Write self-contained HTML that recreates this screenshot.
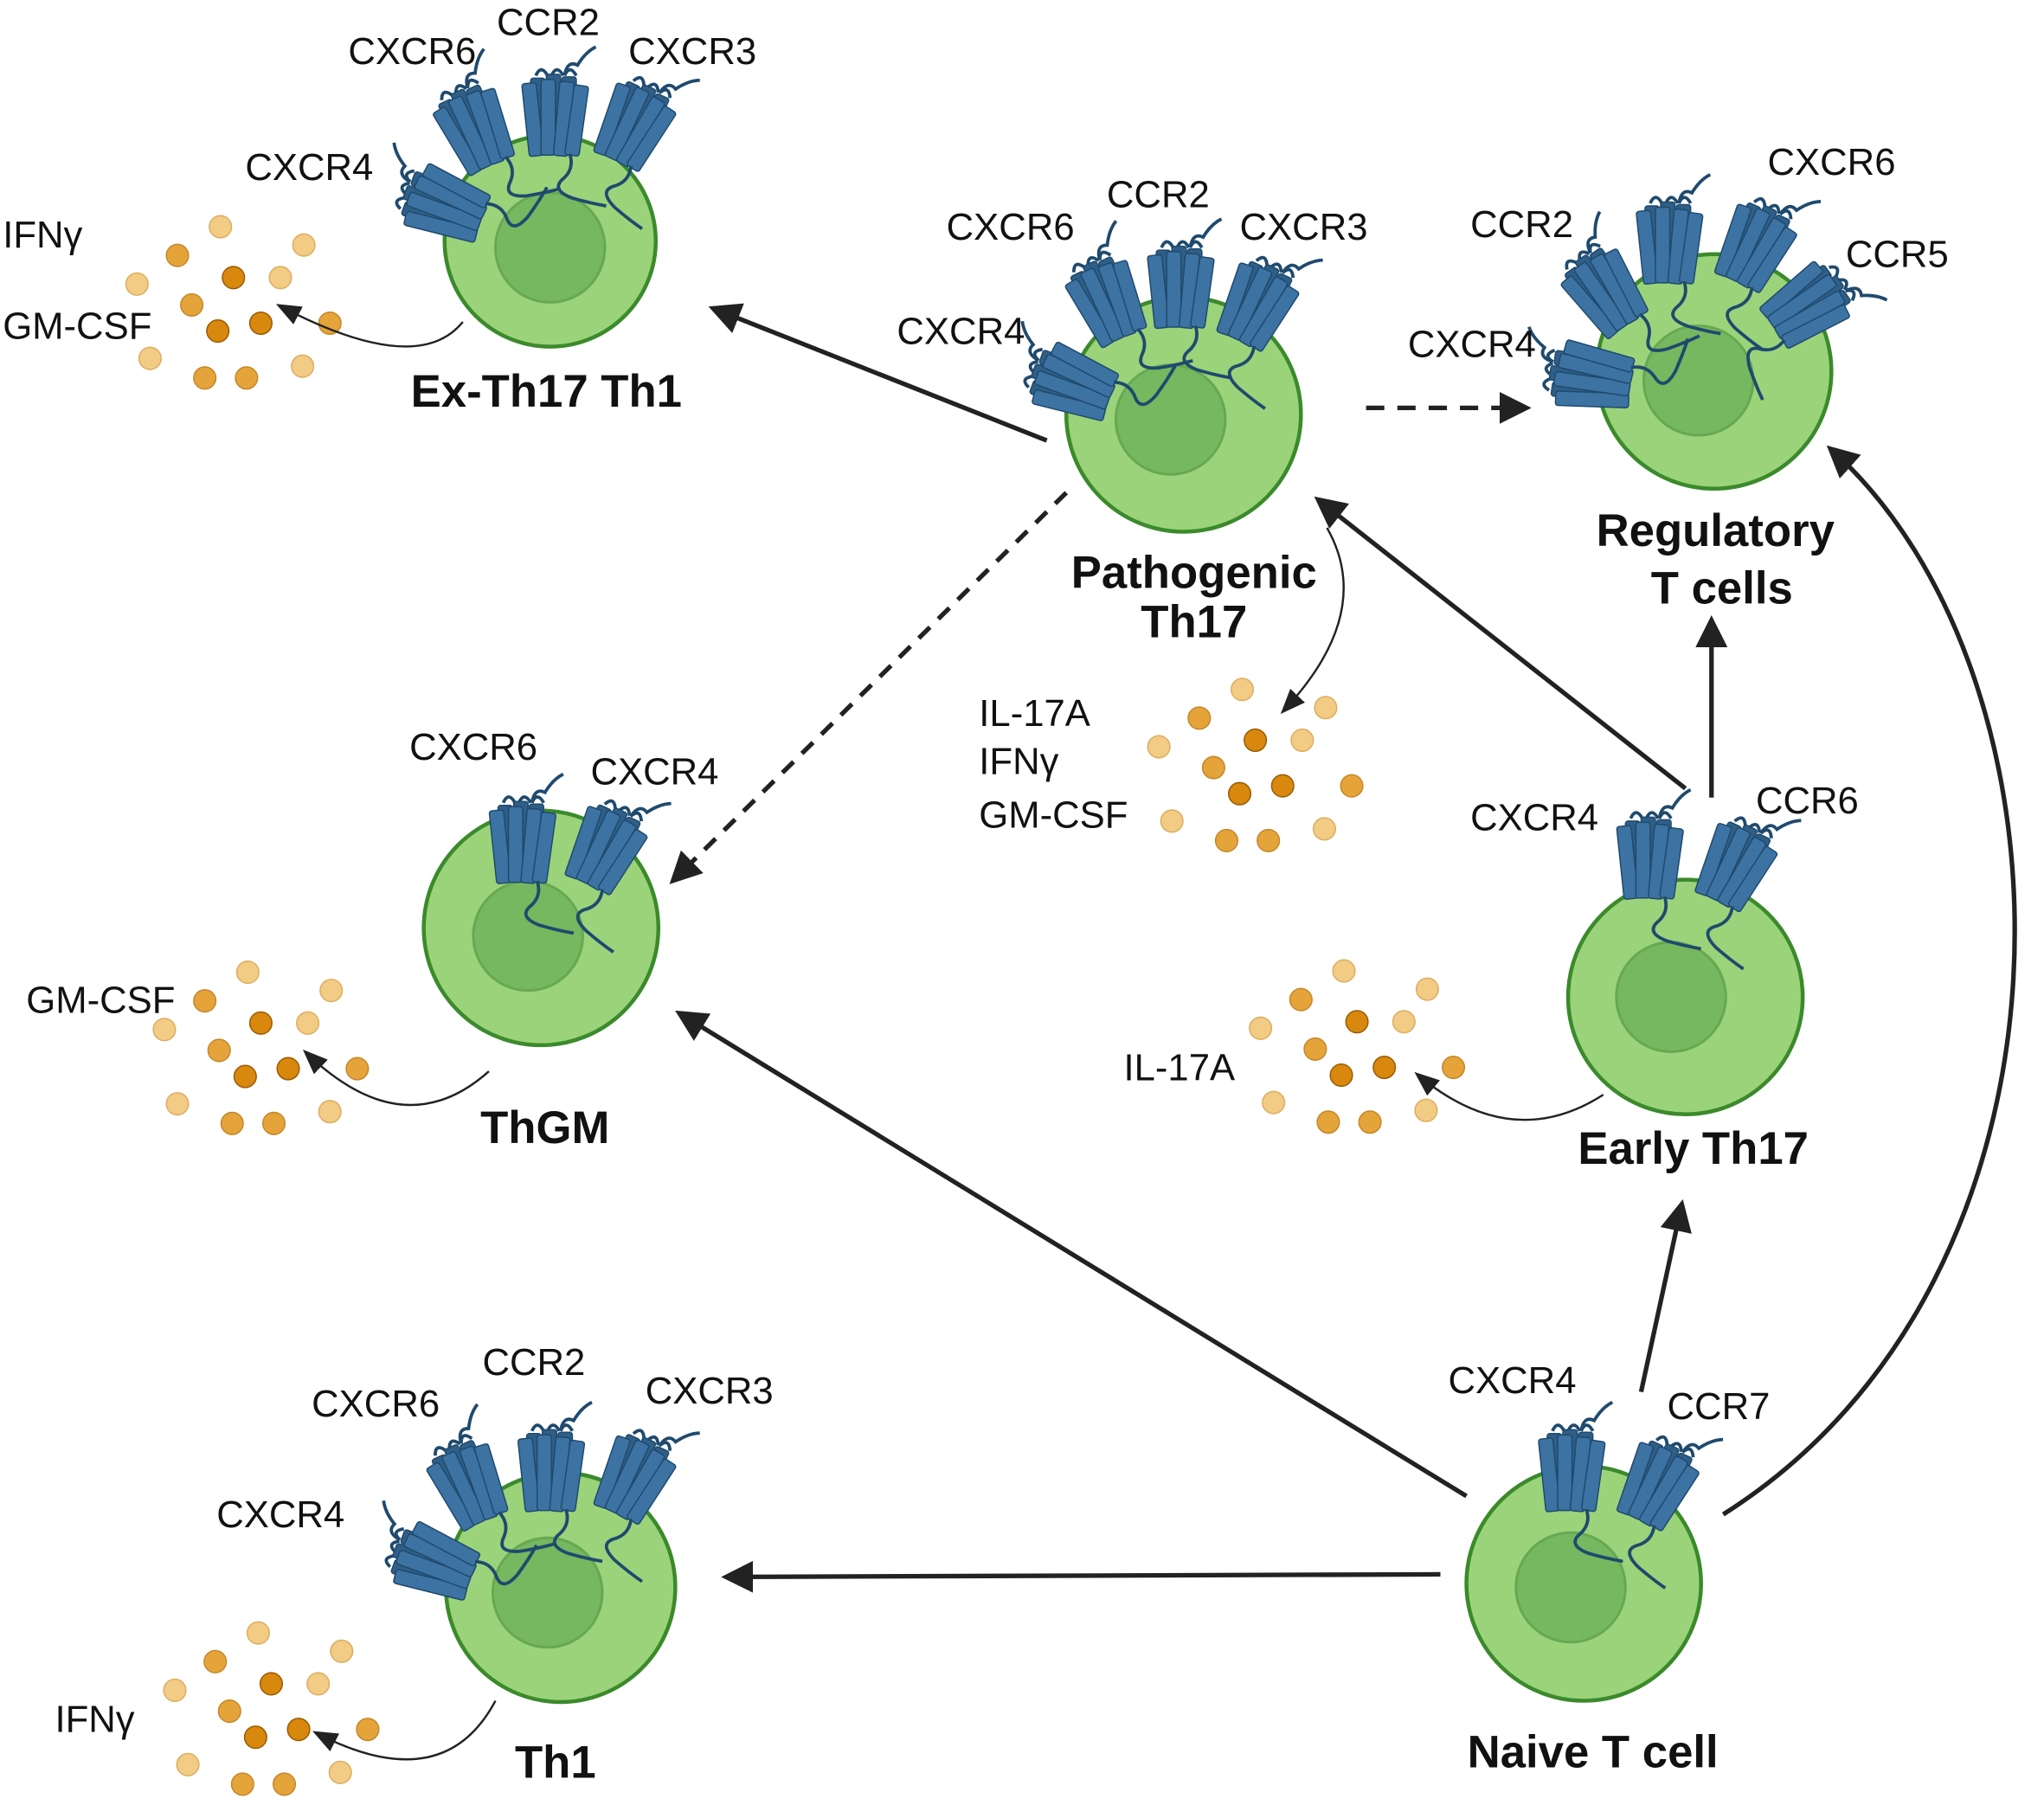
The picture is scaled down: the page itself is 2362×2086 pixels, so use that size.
<!DOCTYPE html>
<html><head><meta charset="utf-8"><style>
html,body{margin:0;padding:0;background:#fff;}
svg{display:block;}
text{font-family:"Liberation Sans",sans-serif;fill:#111;}
.l{font-size:29px;}
.b{font-size:35px;font-weight:bold;}
</style></head><body>
<svg width="2362" height="2086" viewBox="0 0 1568 1385" xmlns="http://www.w3.org/2000/svg">
<defs>
<g id="rec">
  <path d="M8,-32 q2,-12 10,-8 q6,-10 14,-14" fill="none" stroke="#1f4a6e" stroke-width="2.5"/>
  <path d="M-14,-32 q4,-9 9,0 M-2,-32 q4,-9 9,0 M8,-32 q4,-9 9,0" fill="none" stroke="#1f4a6e" stroke-width="2.5"/>
  <rect x="-18" y="-30" width="11" height="54" rx="2" fill="#2f5f87" stroke="#1f4a6e"/>
  <rect x="-6" y="-33" width="11" height="54" rx="2" fill="#2f5f87" stroke="#1f4a6e"/>
  <rect x="6" y="-31" width="11" height="54" rx="2" fill="#2f5f87" stroke="#1f4a6e"/>
  <rect x="-22" y="-28" width="11" height="56" rx="2" fill="#3d73a3" stroke="#1f4a6e" transform="rotate(-6)"/>
  <rect x="-10" y="-29" width="11" height="58" rx="2" fill="#3d73a3" stroke="#1f4a6e"/>
  <rect x="2" y="-28" width="11" height="57" rx="2" fill="#3d73a3" stroke="#1f4a6e" transform="rotate(5)"/>
  <rect x="12" y="-27" width="11" height="54" rx="2" fill="#3d73a3" stroke="#1f4a6e" transform="rotate(8)"/>
  <path d="M12,28 q4,12 -6,20 q-8,8 8,14 q14,4 26,6" fill="none" stroke="#1f4a6e" stroke-width="2.5"/>
</g>
<g id="dots">
  <g fill="#f2cb84" stroke="#dcae60" stroke-width="1">
    <circle cx="-10" cy="-59" r="8.5"/><circle cx="54" cy="-45" r="8.5"/><circle cx="-74" cy="-15" r="8.5"/>
    <circle cx="36" cy="-20" r="8.5"/><circle cx="-64" cy="42" r="8.5"/><circle cx="53" cy="48" r="8.5"/>
  </g>
  <g fill="#e4a43a" stroke="#c5872a" stroke-width="1">
    <circle cx="-43" cy="-37" r="8.5"/><circle cx="-32" cy="1" r="8.5"/><circle cx="-22" cy="57" r="8.5"/>
    <circle cx="10" cy="57" r="8.5"/><circle cx="74" cy="15" r="8.5"/>
  </g>
  <g fill="#d8880c" stroke="#9a5c05" stroke-width="1">
    <circle cx="0" cy="-20" r="8.5"/><circle cx="-12" cy="21" r="8.5"/><circle cx="21" cy="15" r="8.5"/>
  </g>
</g>
<marker id="ah" viewBox="0 0 10 10" refX="8" refY="5" markerWidth="7" markerHeight="7" orient="auto" markerUnits="strokeWidth"><path d="M0,0 L10,5 L0,10 z" fill="#222"/></marker>
<marker id="ah2" viewBox="0 0 10 10" refX="8" refY="5" markerWidth="10" markerHeight="10" orient="auto" markerUnits="strokeWidth"><path d="M0,0 L10,5 L0,10 z" fill="#222"/></marker>
<marker id="ahs" viewBox="0 0 10 10" refX="8" refY="5" markerWidth="12" markerHeight="12" orient="auto" markerUnits="strokeWidth"><path d="M0,1 L10,5 L0,9 z" fill="#222"/></marker>
</defs>

<!-- connectors -->
<g stroke="#222" stroke-width="3.5" fill="none">
  <line x1="803" y1="338" x2="548" y2="237" marker-end="url(#ah)"/>
  <line x1="1048" y1="313" x2="1170" y2="313" stroke-dasharray="14,10" marker-end="url(#ah)"/>
  <line x1="818" y1="378" x2="517" y2="675" stroke-dasharray="12,9" marker-end="url(#ah)"/>
  <line x1="1293" y1="605" x2="1012" y2="384" marker-end="url(#ah)"/>
  <line x1="1313" y1="612" x2="1313" y2="477" marker-end="url(#ah)"/>
  <line x1="1125" y1="1148" x2="522" y2="778" marker-end="url(#ah)"/>
  <line x1="1105" y1="1208" x2="558" y2="1210" marker-end="url(#ah)"/>
  <line x1="1259" y1="1068" x2="1290" y2="925" marker-end="url(#ah)"/>
  <path d="M1322,1162 C1610,980 1600,520 1405,345" marker-end="url(#ah)"/>
</g>

<!-- cells -->
<g stroke="#3b8a2c" stroke-width="3">
  <circle cx="422" cy="185" r="81" fill="#9bd37a"/>
  <circle cx="908" cy="318" r="90" fill="#9bd37a"/>
  <circle cx="1315" cy="285" r="90" fill="#9bd37a"/>
  <circle cx="415" cy="712" r="90" fill="#9bd37a"/>
  <circle cx="1293" cy="765" r="90" fill="#9bd37a"/>
  <circle cx="430" cy="1218" r="88" fill="#9bd37a"/>
  <circle cx="1215" cy="1215" r="90" fill="#9bd37a"/>
</g>
<g fill="#76b85f" stroke="#67a852" stroke-width="2">
  <circle cx="422" cy="190" r="42"/>
  <circle cx="898" cy="322" r="42"/>
  <circle cx="1303" cy="292" r="42"/>
  <circle cx="405" cy="718" r="42"/>
  <circle cx="1282" cy="765" r="42"/>
  <circle cx="420" cy="1222" r="42"/>
  <circle cx="1205" cy="1218" r="42"/>
</g>

<!-- receptors -->
<use href="#rec" transform="translate(342,158) rotate(-70)"/>
<use href="#rec" transform="translate(365,100) rotate(-25)"/>
<use href="#rec" transform="translate(425,90)"/>
<use href="#rec" transform="translate(485,97) rotate(25)"/>

<use href="#rec" transform="translate(824,295) rotate(-70)"/>
<use href="#rec" transform="translate(850,232) rotate(-25)"/>
<use href="#rec" transform="translate(905,222)"/>
<use href="#rec" transform="translate(963,235) rotate(25)"/>

<use href="#rec" transform="translate(1222,290) rotate(-82)"/>
<use href="#rec" transform="translate(1232,225) rotate(-35)"/>
<use href="#rec" transform="translate(1280,188)"/>
<use href="#rec" transform="translate(1345,190) rotate(25)"/>
<use href="#rec" transform="translate(1385,235) rotate(55)"/>

<use href="#rec" transform="translate(400,648)"/>
<use href="#rec" transform="translate(463,652) rotate(25)"/>

<use href="#rec" transform="translate(1265,660)"/>
<use href="#rec" transform="translate(1330,665) rotate(25)"/>

<use href="#rec" transform="translate(334,1200) rotate(-70)"/>
<use href="#rec" transform="translate(360,1140) rotate(-25)"/>
<use href="#rec" transform="translate(422,1130)"/>
<use href="#rec" transform="translate(485,1135) rotate(25)"/>

<use href="#rec" transform="translate(1205,1130)"/>
<use href="#rec" transform="translate(1270,1140) rotate(25)"/>

<!-- cytokines -->
<use href="#dots" transform="translate(179,233)"/>
<use href="#dots" transform="translate(963,588)"/>
<use href="#dots" transform="translate(200,805)"/>
<use href="#dots" transform="translate(1041,804)"/>
<use href="#dots" transform="translate(208,1312)"/>

<!-- secretion arrows -->
<g stroke="#222" stroke-width="1.6" fill="none">
  <path d="M355,247 Q320,290 215,235" marker-end="url(#ahs)"/>
  <path d="M1018,405 Q1055,470 985,545" marker-end="url(#ahs)"/>
  <path d="M375,822 Q310,880 235,808" marker-end="url(#ahs)"/>
  <path d="M1230,840 Q1160,885 1088,825" marker-end="url(#ahs)"/>
  <path d="M380,1305 Q340,1380 243,1330" marker-end="url(#ahs)"/>
</g>

<!-- labels -->
<g class="l">
  <text x="267" y="49">CXCR6</text><text x="381" y="27">CCR2</text><text x="482" y="49">CXCR3</text>
  <text x="188" y="138">CXCR4</text>
  <text x="2" y="190">IFNγ</text><text x="2" y="260">GM-CSF</text>

  <text x="726" y="184">CXCR6</text><text x="849" y="159">CCR2</text><text x="951" y="184">CXCR3</text>
  <text x="688" y="264">CXCR4</text>

  <text x="1128" y="182">CCR2</text><text x="1356" y="134">CXCR6</text><text x="1416" y="205">CCR5</text>
  <text x="1080" y="274">CXCR4</text>

  <text x="751" y="557">IL-17A</text><text x="751" y="594">IFNγ</text><text x="751" y="635">GM-CSF</text>

  <text x="314" y="583">CXCR6</text><text x="453" y="602">CXCR4</text>
  <text x="20" y="777">GM-CSF</text>

  <text x="1128" y="637">CXCR4</text><text x="1347" y="624">CCR6</text>
  <text x="862" y="829">IL-17A</text>

  <text x="239" y="1087">CXCR6</text><text x="370" y="1055">CCR2</text><text x="495" y="1077">CXCR3</text>
  <text x="166" y="1172">CXCR4</text>
  <text x="42" y="1329">IFNγ</text>

  <text x="1111" y="1069">CXCR4</text><text x="1279" y="1089">CCR7</text>
</g>
<g class="b">
  <text x="315" y="312">Ex-Th17 Th1</text>
  <text x="916" y="451" text-anchor="middle">Pathogenic</text>
  <text x="916" y="489" text-anchor="middle">Th17</text>
  <text x="1316" y="419" text-anchor="middle">Regulatory</text>
  <text x="1321" y="463" text-anchor="middle">T cells</text>
  <text x="418" y="877" text-anchor="middle">ThGM</text>
  <text x="1299" y="893" text-anchor="middle">Early Th17</text>
  <text x="426" y="1364" text-anchor="middle">Th1</text>
  <text x="1222" y="1356" text-anchor="middle">Naive T cell</text>
</g>
</svg>
</body></html>
